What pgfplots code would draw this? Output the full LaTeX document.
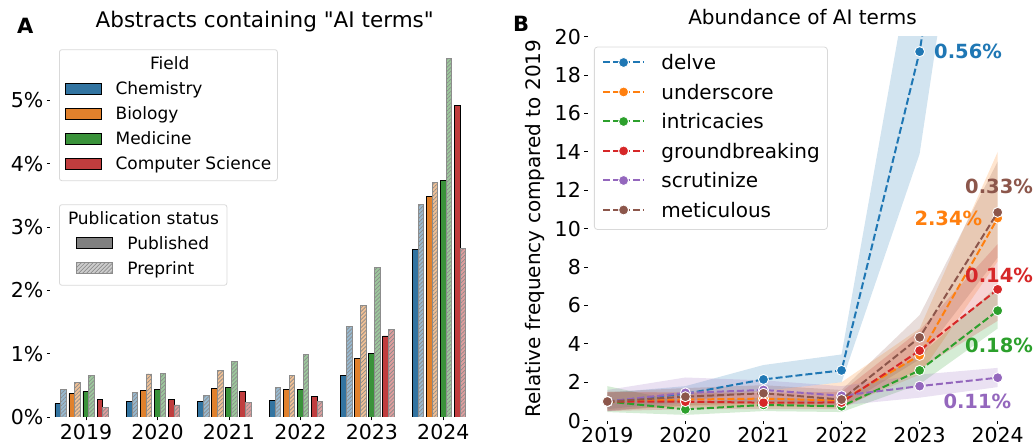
\documentclass[border=0pt]{standalone}
\usepackage{fontspec}
\setmainfont{DejaVu Sans}
% same face without the TeX mapping, so that " stays a straight quote
\newfontfamily\plainfont{DejaVu Sans}
\usepackage{pgfplots}
\pgfplotsset{compat=1.18}
\usetikzlibrary{patterns.meta}

% bars: published (muted) and preprint (light) colours
\definecolor{chempub}{HTML}{3274A1}
\definecolor{chempre}{HTML}{98B9D0}
\definecolor{biopub}{HTML}{E1812C}
\definecolor{biopre}{HTML}{F0C095}
\definecolor{medpub}{HTML}{3A923A}
\definecolor{medpre}{HTML}{9CC89C}
\definecolor{cspub}{HTML}{C03D3E}
\definecolor{cspre}{HTML}{DF9E9E}
% lines: tab10
\definecolor{tblue}{HTML}{1F77B4}
\definecolor{torange}{HTML}{FF7F0E}
\definecolor{tgreen}{HTML}{2CA02C}
\definecolor{tred}{HTML}{D62728}
\definecolor{tpurple}{HTML}{9467BD}
\definecolor{tbrown}{HTML}{8C564B}

\pgfplotsset{
  panel/.style={
    scale only axis,
    axis x line*=bottom, axis y line*=left,
    axis line style={draw=none},
    xtick pos=left, ytick pos=left,
    tick align=outside,
    major tick length=3.5bp,
    tick style={black, line width=0.8bp},
    ticklabel style={font=\fontsize{20.5bp}{24bp}\selectfont},
    /pgf/number format/assume math mode=true,
    /pgf/number format/1000 sep={},
    clip mode=individual,
  },
  pubbar/.style={ybar, bar width=0.079, fill=#1, draw=black, line width=0.9bp, forget plot},
  prebar/.style={ybar, bar width=0.079, fill=#1, draw=black!45, line width=0.9bp, forget plot,
    postaction={pattern={Lines[angle=45,distance=2.8bp,line width=0.7bp]}, pattern color=black!45}},
  aiband/.style={fill=#1, fill opacity=0.2, draw=none, forget plot},
  aiterm/.style={color=#1, line width=2bp, dash pattern=on 7bp off 3bp,
    mark=*, mark size=5bp, mark options={solid, fill=#1, draw=white, line width=0.9bp}},
}

\begin{document}
\begin{tikzpicture}[x=1bp,y=1bp]
\useasboundingbox (0,0) rectangle (1034,447);

% ---------------- panel A ----------------
\begin{axis}[panel,
  at={(50.3bp,30bp)}, anchor=south west,
  width=428.8bp, height=376.6bp,
  xmin=2018.5, xmax=2024.5, ymin=0, ymax=5.95,
  xtick={2019,...,2024},
  ytick={0,...,5},
  yticklabels={0\%,1\%,2\%,3\%,4\%,5\%},
  title={\plainfont Abstracts containing "AI terms"},
  title style={font=\fontsize{21.5bp}{25bp}\selectfont, at={(axis description cs:0.5,1)}, anchor=base, yshift=7.1bp},
  legend image code/.code={\draw[sharp corners,#1] (0bp,0.7bp) rectangle (35.7bp,11.7bp);},
  legend style={at={(axis description cs:0.0203,0.9764)}, anchor=north west,
    font=\fontsize{17bp}{20bp}\selectfont, draw=black!15, line width=0.8bp,
    rounded corners=2.5bp, fill=white,
    inner xsep=6bp, inner ysep=7.5bp, row sep=9bp, column sep=13.6bp,
    nodes={inner sep=0pt, text height=12.5bp, text depth=3.5bp},
    cells={anchor=base west}},
]
  % Chemistry
  \addplot[pubbar=chempub, bar shift=-0.395] coordinates {
    (2019,0.21) (2020,0.25) (2021,0.25) (2022,0.26) (2023,0.65) (2024,2.64)};
  \addplot[prebar=chempre, bar shift=-0.315] coordinates {
    (2019,0.44) (2020,0.39) (2021,0.34) (2022,0.47) (2023,1.43) (2024,3.36)};
  % Biology
  \addplot[pubbar=biopub, bar shift=-0.199] coordinates {
    (2019,0.37) (2020,0.42) (2021,0.45) (2022,0.43) (2023,0.92) (2024,3.49)};
  \addplot[prebar=biopre, bar shift=-0.119] coordinates {
    (2019,0.54) (2020,0.68) (2021,0.73) (2022,0.66) (2023,1.76) (2024,3.71)};
  % Medicine
  \addplot[pubbar=medpub, bar shift=-0.003] coordinates {
    (2019,0.40) (2020,0.43) (2021,0.47) (2022,0.44) (2023,1.00) (2024,3.73)};
  \addplot[prebar=medpre, bar shift=0.077] coordinates {
    (2019,0.66) (2020,0.69) (2021,0.88) (2022,0.99) (2023,2.36) (2024,5.67)};
  % Computer Science
  \addplot[pubbar=cspub, bar shift=0.193] coordinates {
    (2019,0.28) (2020,0.28) (2021,0.41) (2022,0.33) (2023,1.28) (2024,4.92)};
  \addplot[prebar=cspre, bar shift=0.273] coordinates {
    (2019,0.15) (2020,0.19) (2021,0.23) (2022,0.25) (2023,1.39) (2024,2.66)};

  \addlegendimage{empty legend}\addlegendentry{\hspace*{34.5bp}Field}
  \addlegendimage{fill=chempub, draw=black, line width=0.9bp}\addlegendentry{Chemistry}
  \addlegendimage{fill=biopub, draw=black, line width=0.9bp}\addlegendentry{Biology}
  \addlegendimage{fill=medpub, draw=black, line width=0.9bp}\addlegendentry{Medicine}
  \addlegendimage{fill=cspub, draw=black, line width=0.9bp}\addlegendentry{Computer Science}
\end{axis}

% second legend of panel A
\begin{axis}[scale only axis, hide axis,
  at={(50.3bp,30bp)}, anchor=south west,
  width=428.8bp, height=376.6bp,
  xmin=2018.5, xmax=2024.5, ymin=0, ymax=5.95,
  legend image code/.code={\draw[sharp corners,#1] (0bp,0.7bp) rectangle (35.7bp,11.7bp);},
  legend style={at={(axis description cs:0.0203,0.5648)}, anchor=north west,
    font=\fontsize{17bp}{20bp}\selectfont, draw=black!15, line width=0.8bp,
    rounded corners=2.5bp, fill=white,
    inner xsep=17bp, inner ysep=7.5bp, row sep=8.8bp, column sep=14.3bp,
    nodes={inner sep=0pt, text height=12.5bp, text depth=3.5bp},
    cells={anchor=base west}},
]
  \addlegendimage{empty legend}\addlegendentry{\hspace*{-59.3bp}Publication status\hspace*{-9bp}}
  \addlegendimage{fill=black!50, draw=black, line width=0.9bp}\addlegendentry{Published}
  \addlegendimage{fill=black!20, draw=black!45, line width=0.9bp,
    postaction={pattern={Lines[angle=45,distance=2.8bp,line width=0.7bp]}, pattern color=black!45}}
  \addlegendentry{Preprint}
\end{axis}

% ---------------- panel B ----------------
\begin{axis}[panel,
  at={(587.8bp,26.3bp)}, anchor=south west,
  width=429.4bp, height=384bp,
  xmin=2018.75, xmax=2024.25, ymin=0, ymax=20,
  xtick={2019,...,2024},
  ytick={0,2,...,20},
  ylabel={Relative frequency compared to 2019},
  every axis y label/.style={at={(axis description cs:-0.123,0.5)}, rotate=90, anchor=center,
    font=\fontsize{20bp}{24bp}\selectfont},
  title={Abundance of AI terms},
  title style={font=\fontsize{20bp}{24bp}\selectfont, at={(axis description cs:0.5,1)}, anchor=base, yshift=6.7bp},
  legend image code/.code={\draw[mark repeat=2,mark phase=2,#1] plot coordinates {(0bp,7.3bp) (20.5bp,7.3bp) (41bp,7.3bp)};},
  legend style={at={(axis description cs:0.0144,0.974)}, anchor=north west,
    font=\fontsize{20bp}{24bp}\selectfont, draw=black!15, line width=0.8bp,
    rounded corners=3bp, fill=white,
    inner xsep=7.7bp, inner ysep=7.7bp, row sep=10bp, column sep=16.3bp,
    nodes={inner sep=0pt, text height=15bp, text depth=4.5bp},
    cells={anchor=base west}},
]
  % uncertainty bands: upper edge left to right, lower edge back
  \addplot[aiband=tblue] coordinates {
    (2019,1.45) (2020,1.8) (2021,2.9) (2022,3.45) (2023,26.3) (2024,60)
    (2024,41) (2023,13.9) (2022,2.0) (2021,1.55) (2020,1.0) (2019,0.6)} -- cycle;
  \addplot[aiband=torange] coordinates {
    (2019,1.5) (2020,1.5) (2021,1.55) (2022,2.0) (2023,4.8) (2024,14.0)
    (2024,8.3) (2023,2.4) (2022,0.7) (2021,0.75) (2020,0.75) (2019,0.55)} -- cycle;
  \addplot[aiband=tgreen] coordinates {
    (2019,1.8) (2020,0.95) (2021,1.2) (2022,1.1) (2023,3.4) (2024,7.0)
    (2024,4.8) (2023,1.9) (2022,0.45) (2021,0.5) (2020,0.3) (2019,0.45)} -- cycle;
  \addplot[aiband=tred] coordinates {
    (2019,1.5) (2020,1.45) (2021,1.45) (2022,1.5) (2023,4.7) (2024,9.2)
    (2024,5.2) (2023,2.7) (2022,0.6) (2021,0.6) (2020,0.6) (2019,0.5)} -- cycle;
  \addplot[aiband=tpurple] coordinates {
    (2019,1.6) (2020,2.25) (2021,2.1) (2022,1.8) (2023,2.4) (2024,2.75)
    (2024,1.75) (2023,1.2) (2022,0.8) (2021,1.0) (2020,0.9) (2019,0.5)} -- cycle;
  \addplot[aiband=tbrown] coordinates {
    (2019,1.5) (2020,1.7) (2021,1.85) (2022,1.6) (2023,5.5) (2024,13.5)
    (2024,8.5) (2023,3.2) (2022,0.7) (2021,0.9) (2020,0.8) (2019,0.5)} -- cycle;

  % relative frequencies
  \addplot[aiterm=tblue] coordinates {
    (2019,1.0) (2020,1.4) (2021,2.15) (2022,2.62) (2023,19.22) (2024,45)};
  \addlegendentry{delve}
  \addplot[aiterm=torange] coordinates {
    (2019,1.0) (2020,1.1) (2021,1.15) (2022,1.05) (2023,3.4) (2024,10.55)};
  \addlegendentry{underscore}
  \addplot[aiterm=tgreen] coordinates {
    (2019,1.0) (2020,0.59) (2021,0.82) (2022,0.75) (2023,2.62) (2024,5.73)};
  \addlegendentry{intricacies}
  \addplot[aiterm=tred] coordinates {
    (2019,1.0) (2020,0.99) (2021,0.94) (2022,0.95) (2023,3.65) (2024,6.84)};
  \addlegendentry{groundbreaking}
  \addplot[aiterm=tpurple] coordinates {
    (2019,1.0) (2020,1.45) (2021,1.6) (2022,1.3) (2023,1.8) (2024,2.24)};
  \addlegendentry{scrutinize}
  \addplot[aiterm=tbrown] coordinates {
    (2019,1.0) (2020,1.25) (2021,1.43) (2022,1.1) (2023,4.34) (2024,10.85)};
  \addlegendentry{meticulous}
\end{axis}

% panel letters
\node[anchor=base west, inner sep=0pt, font=\fontsize{21bp}{25bp}\selectfont\bfseries] at (17,413.5) {A};
\node[anchor=base west, inner sep=0pt, font=\fontsize{21bp}{25bp}\selectfont\bfseries] at (513,415) {B};

% share of abstracts in 2024
\begin{scope}[every node/.style={anchor=base west, inner sep=0pt, font=\fontsize{19.5bp}{23bp}\selectfont\bfseries}]
  \node[text=tblue]   at (934,388)    {0.56\%};
  \node[text=torange] at (914.3,221.4) {2.34\%};
  \node[text=tbrown]  at (965,253.7)  {0.33\%};
  \node[text=tred]    at (965,164.7)  {0.14\%};
  \node[text=tgreen]  at (965,94)     {0.18\%};
  \node[text=tpurple] at (943.3,38)   {0.11\%};
\end{scope}
\end{tikzpicture}
\end{document}
